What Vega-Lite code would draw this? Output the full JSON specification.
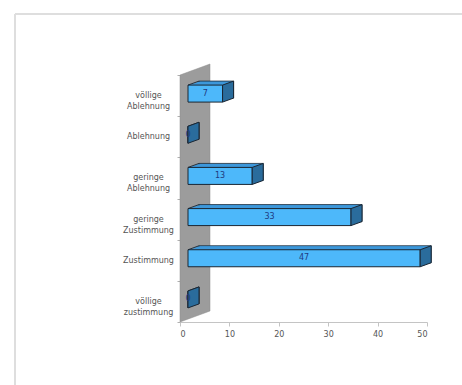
{
  "$schema": "https://vega.github.io/schema/vega-lite/v6.json",
  "width": 247,
  "height": 247,
  "autosize": {"type": "none"},
  "padding": {"left": 180, "top": 75, "right": 35, "bottom": 63},
  "background": "white",
  "config": {"view": {"stroke": null}, "font": "DejaVu Sans"},
  "data": {
    "values": [
      {"cat": "völlige Ablehnung", "n": 7},
      {"cat": "Ablehnung", "n": 0},
      {"cat": "geringe Ablehnung", "n": 13},
      {"cat": "geringe Zustimmung", "n": 33},
      {"cat": "Zustimmung", "n": 47},
      {"cat": "völlige zustimmung", "n": 0}
    ]
  },
  "resolve": {"scale": {"x": "independent"}},
  "layer": [
    {
      "layer": [
        {
          "transform": [{"aggregate": [{"op": "count", "as": "rows"}]}],
          "mark": {"type": "rule", "stroke": "#dedede", "strokeWidth": 2, "xOffset": -165, "x2Offset": 80, "yOffset": -61},
          "encoding": {
            "x": {"datum": 0, "type": "quantitative", "scale": {"domain": [0, 50]}},
            "x2": {"datum": 50},
            "y": {"datum": "völlige Ablehnung", "type": "nominal", "bandPosition": 0}
          }
        },
        {
          "transform": [{"aggregate": [{"op": "count", "as": "rows"}]}],
          "mark": {"type": "rule", "stroke": "#dedede", "strokeWidth": 2, "xOffset": -165, "yOffset": -61, "y2Offset": 400},
          "encoding": {
            "x": {"datum": 0, "type": "quantitative", "scale": {"domain": [0, 50]}},
            "y": {"datum": "völlige Ablehnung", "type": "nominal", "bandPosition": 0},
            "y2": {"datum": "völlige Ablehnung"}
          }
        },
        {
          "transform": [{"aggregate": [{"op": "count", "as": "rows"}]}],
          "mark": {"type": "point", "filled": true, "opacity": 1, "fill": "#9c9c9c", "stroke": "#8c8c8c", "strokeWidth": 0.5, "size": 66564, "xOffset": 15, "yOffset": -5.5,
                   "shape": "M -0.1163 -0.9147 L 0.1163 -1 L 0.1163 0.9147 L -0.1163 1 Z"},
          "encoding": {"x": {"datum": 0, "type": "quantitative", "scale": {"domain": [0, 50]}}}
        },
        {
          "mark": {"type": "bar", "height": {"band": 0.413}, "fill": "#3c97da", "stroke": "#1b2836", "strokeWidth": 0.8, "xOffset": 19, "x2Offset": 19, "yOffset": -6},
          "encoding": {
            "x": {"field": "n", "type": "quantitative", "scale": {"domain": [0, 50]}},
            "y": {"field": "cat", "type": "nominal", "sort": null, "scale": {"paddingInner": 0, "paddingOuter": 0}}
          }
        },
        {
          "mark": {"type": "bar", "height": {"band": 0.413}, "fill": "#3c97da", "xOffset": 16.8, "x2Offset": 16.8, "yOffset": -5.2},
          "encoding": {
            "x": {"field": "n", "type": "quantitative", "scale": {"domain": [0, 50]}},
            "y": {"field": "cat", "type": "nominal", "sort": null}
          }
        },
        {
          "mark": {"type": "bar", "height": {"band": 0.413}, "fill": "#3c97da", "xOffset": 14.6, "x2Offset": 14.6, "yOffset": -4.4},
          "encoding": {
            "x": {"field": "n", "type": "quantitative", "scale": {"domain": [0, 50]}},
            "y": {"field": "cat", "type": "nominal", "sort": null}
          }
        },
        {
          "mark": {"type": "bar", "height": {"band": 0.413}, "fill": "#3c97da", "xOffset": 12.4, "x2Offset": 12.4, "yOffset": -3.6},
          "encoding": {
            "x": {"field": "n", "type": "quantitative", "scale": {"domain": [0, 50]}},
            "y": {"field": "cat", "type": "nominal", "sort": null}
          }
        },
        {
          "mark": {"type": "bar", "height": {"band": 0.413}, "fill": "#3c97da", "xOffset": 10.2, "x2Offset": 10.2, "yOffset": -2.8},
          "encoding": {
            "x": {"field": "n", "type": "quantitative", "scale": {"domain": [0, 50]}},
            "y": {"field": "cat", "type": "nominal", "sort": null}
          }
        },
        {
          "mark": {"type": "bar", "height": {"band": 0.413}, "fill": "#4db8fa", "stroke": "#1a2633", "strokeWidth": 1, "xOffset": 8, "x2Offset": 8, "yOffset": -2},
          "encoding": {
            "x": {
              "field": "n", "type": "quantitative", "scale": {"domain": [0, 50]},
              "axis": {"title": null, "grid": false, "values": [0, 10, 20, 30, 40, 50], "domainColor": "#c4c4c4", "tickColor": "#c4c4c4", "tickSize": 4,
                       "labelFontSize": 8, "labelColor": "#555555", "labelPadding": 4}
            },
            "y": {
              "field": "cat", "type": "nominal", "sort": null,
              "axis": {"title": null, "domain": false, "tickBand": "extent", "tickSize": 3, "tickColor": "#b0b0b0",
                       "labelExpr": "split(datum.label, ' ')", "labelAlign": "center", "labelBaseline": "middle", "labelPadding": 29,
                       "labelFontSize": 8, "labelLineHeight": 11, "labelColor": "#555555"}
            }
          }
        },
        {
          "mark": {"type": "rule", "stroke": "#1a2633", "strokeWidth": 0.9, "xOffset": 8, "x2Offset": 19, "yOffset": -10.5, "y2Offset": -14.5},
          "encoding": {
            "x": {"datum": 0, "type": "quantitative", "scale": {"domain": [0, 50]}},
            "x2": {"datum": 0},
            "y": {"field": "cat", "type": "nominal", "sort": null},
            "y2": {"field": "cat"}
          }
        },
        {
          "mark": {"type": "point", "filled": true, "opacity": 1, "fill": "#2a6c9c", "stroke": "#1a2633", "strokeWidth": 1, "size": 441, "xOffset": 13.5, "yOffset": -4,
                   "shape": "M -0.524 -0.619 L -0.524 1 L 0.524 0.619 L 0.524 -1 Z"},
          "encoding": {
            "x": {"field": "n", "type": "quantitative", "scale": {"domain": [0, 50]}},
            "y": {"field": "cat", "type": "nominal", "sort": null}
          }
        }
      ]
    },
    {
      "mark": {"type": "text", "fontSize": 8, "color": "#1f3a80", "align": "center", "baseline": "middle", "xOffset": 8, "yOffset": -2},
      "encoding": {
        "x": {"field": "n", "type": "quantitative", "scale": {"domain": [0, 100], "nice": false}, "axis": null},
        "y": {"field": "cat", "type": "nominal", "sort": null},
        "text": {"field": "n", "type": "quantitative"}
      }
    }
  ]
}
